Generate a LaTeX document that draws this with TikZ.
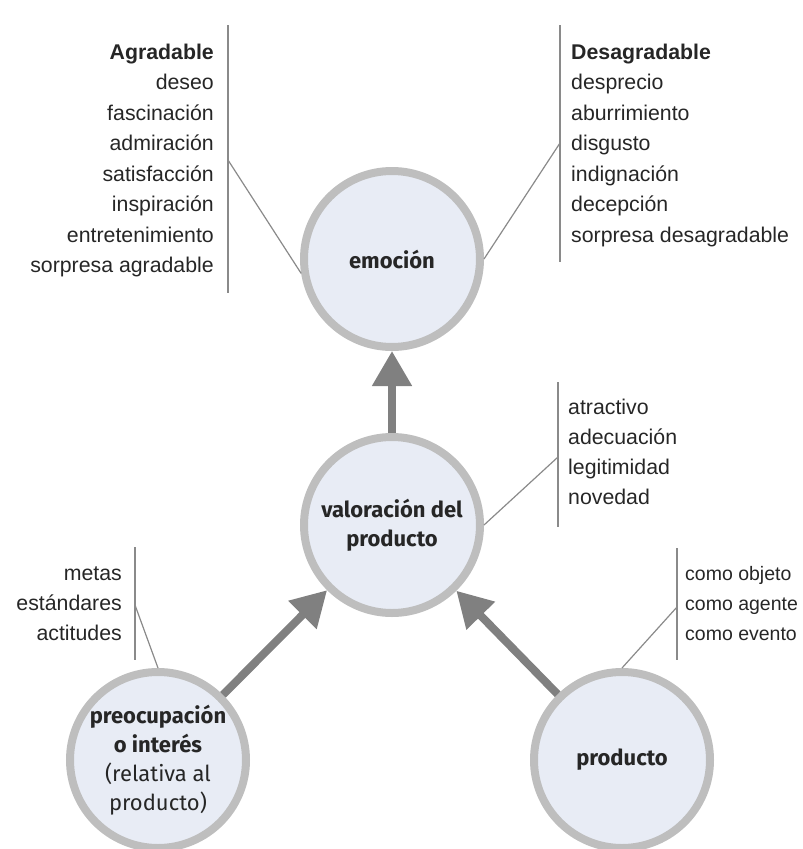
\documentclass[tikz,border=0pt]{standalone}
\usepackage{fontspec}
\setmainfont{Liberation Sans}
\newfontfamily\bubblefont{Fira Sans}
\usetikzlibrary{arrows.meta}
\definecolor{bubblefill}{HTML}{E8ECF5}
\definecolor{bubbleline}{HTML}{BEBEBE}
\definecolor{arrowgray}{HTML}{808080}
\definecolor{leadergray}{HTML}{8A8A8A}
\definecolor{textgray}{HTML}{262626}

\begin{document}
\begin{tikzpicture}[x=1pt, y=-1pt,
  bubble/.style={circle, draw=bubbleline, fill=bubblefill, line width=8pt,
    minimum size=176pt, inner sep=0pt, align=center, text=textgray,
    font=\bubblefont\fontsize{22}{29}\selectfont\bfseries},
  bigarrow/.style={draw=arrowgray, line width=8pt,
    -{Triangle[length=35pt, width=38pt]}},
  leader/.style={draw=leadergray, line width=1.2pt},
  item/.style={inner sep=0pt, text=textgray, font=\fontsize{21.3}{30}\selectfont}]
  \useasboundingbox (0,0) rectangle (803,849);

  % 1) the four circles
  \node[bubble] (emo)  at (392,259) {emoción};
  \node[bubble] (val)  at (392,525) {valoración del\\producto};
  \node[bubble] (pre)  at (158,760) {preocupación\\o interés\\\mdseries(relativa al\\\mdseries producto)};
  \node[bubble] (prod) at (622,760) {producto};

  % 2) thick arrows
  \draw[bigarrow] (val) -- (emo);
  \draw[bigarrow] (pre) -- (val);
  \draw[bigarrow] (prod) -- (val);

  % 3) word lists
  \foreach \w [count=\i from 0] in {\textbf{Agradable}, deseo, fascinación,
      admiración, satisfacción, inspiración, entretenimiento, sorpresa agradable}
    \node[item, anchor=base east] (agr-\i) at (214,{59+30.5*\i}) {\w};
  \foreach \w [count=\i from 0] in {\textbf{Desagradable}, desprecio,
      aburrimiento, disgusto, indignación, decepción, sorpresa desagradable}
    \node[item, anchor=base west] (des-\i) at (571,{59+30.5*\i}) {\w};
  \foreach \w [count=\i from 0] in {atractivo, adecuación, legitimidad, novedad}
    \node[item, anchor=base west] (cri-\i) at (568,{414.5+30*\i}) {\w};
  \foreach \w [count=\i from 0] in {metas, estándares, actitudes}
    \node[item, anchor=base east] (int-\i) at (122,{580+30*\i}) {\w};
  \foreach \w [count=\i from 0] in {como objeto, como agente, como evento}
    \node[item, anchor=base west, font=\fontsize{19.5}{30}\selectfont]
      (obj-\i) at (685,{580+30*\i}) {\w};

  % 4) brackets and leader lines
  \coordinate (agr-top) at (228,25);
  \coordinate (agr-bot) at (228,293);
  \coordinate (agr-tie) at (228,160);
  \coordinate (des-top) at (560,25);
  \coordinate (des-bot) at (560,262);
  \coordinate (des-tie) at (560,143);
  \coordinate (cri-top) at (558,382);
  \coordinate (cri-bot) at (558,527);
  \coordinate (cri-tie) at (558,457);
  \coordinate (int-top) at (135,547);
  \coordinate (int-bot) at (135,660);
  \coordinate (int-tie) at (135,605);
  \coordinate (obj-top) at (677,548);
  \coordinate (obj-bot) at (677,660);
  \coordinate (obj-tie) at (677,607);

  \draw[leader] (agr-top) -- (agr-bot);
  \draw[leader] (agr-tie) -- (emo.189);
  \draw[leader] (des-top) -- (des-bot);
  \draw[leader] (des-tie) -- (emo.east);
  \draw[leader] (cri-top) -- (cri-bot);
  \draw[leader] (cri-tie) -- (val.east);
  \draw[leader] (int-top) -- (int-bot);
  \draw[leader] (int-tie) -- (pre.north);
  \draw[leader] (obj-top) -- (obj-bot);
  \draw[leader] (obj-tie) -- (prod.north);
\end{tikzpicture}
\end{document}
